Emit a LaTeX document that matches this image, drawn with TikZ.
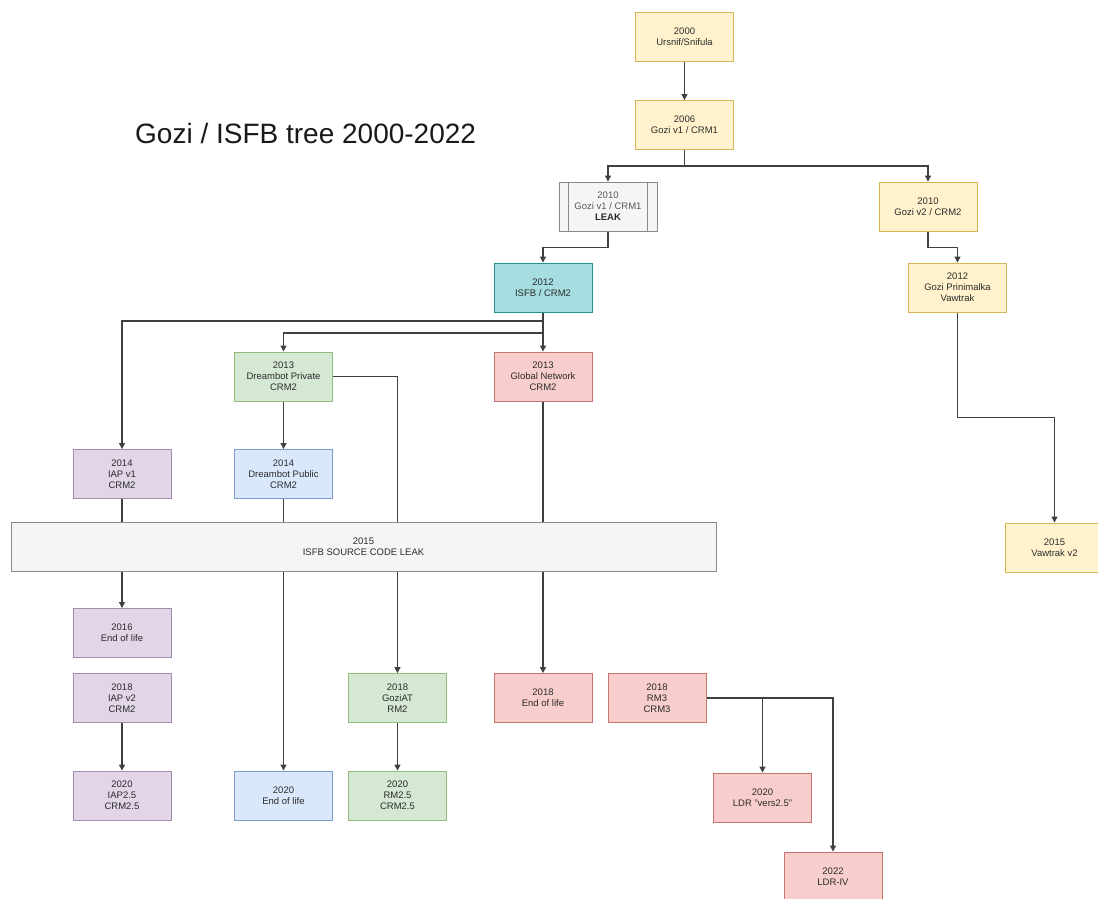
\documentclass[tikz,border=0pt]{standalone}
\usepackage{fontspec}
\setmainfont{Liberation Sans}
\usetikzlibrary{arrows.meta,backgrounds}
\definecolor{yelF}{HTML}{FFF2CC}\definecolor{yelD}{HTML}{D6B656}
\definecolor{gryF}{HTML}{F5F5F5}\definecolor{gryD}{HTML}{8A8A8A}
\definecolor{tealF}{HTML}{A6DDE1}\definecolor{tealD}{HTML}{2A9098}
\definecolor{grnF}{HTML}{D5E8D4}\definecolor{grnD}{HTML}{92BC7A}
\definecolor{redF}{HTML}{F8CECC}\definecolor{redD}{HTML}{C77470}
\definecolor{purF}{HTML}{E1D5E7}\definecolor{purD}{HTML}{A48BB0}
\definecolor{bluF}{HTML}{DAE8FC}\definecolor{bluD}{HTML}{7F9CC8}
\definecolor{linec}{HTML}{404040}
\definecolor{txt}{HTML}{2B2B2B}
\begin{document}
\begin{tikzpicture}[x=1pt,y=-1pt,
  box/.style={draw, line width=0.9pt, minimum width=98pt, minimum height=49pt,
    inner sep=0pt, align=center, font=\fontsize{9.5}{11}\selectfont, text=txt},
  yel/.style={box, fill=yelF, draw=yelD},
  gry/.style={box, fill=gryF, draw=gryD},
  teal/.style={box, fill=tealF, draw=tealD},
  grn/.style={box, fill=grnF, draw=grnD},
  red/.style={box, fill=redF, draw=redD},
  pur/.style={box, fill=purF, draw=purD},
  blu/.style={box, fill=bluF, draw=bluD},
  conn/.style={draw=linec, line width=1.2pt, -{Triangle[length=6pt,width=6pt]}}]
\useasboundingbox (0,0) rectangle (1098,898);
\clip (0,0) rectangle (1098,898);

\node[anchor=base west, font=\fontsize{28}{32}\selectfont, text=black!90, inner sep=0pt] (title) at (135,143) {Gozi / ISFB tree 2000-2022};

\node[yel] (n2000) at (684.5,36.5) {2000\\Ursnif/Snifula};
\node[yel] (n2006) at (684.5,125) {2006\\Gozi v1 / CRM1};
\node[gry] (leak) at (608,206.5) {\textcolor{black!65}{2010}\\\textcolor{black!65}{Gozi v1 / CRM1}\\\textbf{LEAK}};
\draw[gryD, line width=0.9pt] ([xshift=10pt]leak.north west) -- ([xshift=10pt]leak.south west)
  ([xshift=-10pt]leak.north east) -- ([xshift=-10pt]leak.south east);
\node[yel] (g2) at (928,206.5) {2010\\Gozi v2 / CRM2};
\node[teal] (isfb) at (543,287.5) {2012\\ISFB / CRM2};
\node[yel] (prin) at (957.5,287.5) {2012\\Gozi Prinimalka\\Vawtrak};
\node[grn] (dpriv) at (283.5,376.5) {2013\\Dreambot Private\\CRM2};
\node[red] (glob) at (543,376.5) {2013\\Global Network\\CRM2};
\node[pur] (iap1) at (122,474) {2014\\IAP v1\\CRM2};
\node[blu] (dpub) at (283.5,474) {2014\\Dreambot Public\\CRM2};
\node[gry, minimum width=705pt] (bar) at (363.5,547) {2015\\ISFB SOURCE CODE LEAK};
\node[yel] (vaw) at (1054.5,547.5) {2015\\Vawtrak v2};
\node[pur] (eol16) at (122,633) {2016\\End of life};
\node[pur] (iap2) at (122,698) {2018\\IAP v2\\CRM2};
\node[grn] (goziat) at (397.5,698) {2018\\GoziAT\\RM2};
\node[red] (eol18) at (543,698) {2018\\End of life};
\node[red] (rm3) at (657,698) {2018\\RM3\\CRM3};
\node[pur] (iap25) at (122,795.5) {2020\\IAP2.5\\CRM2.5};
\node[blu] (eol20) at (283.5,795.5) {2020\\End of life};
\node[grn] (rm25) at (397.5,795.5) {2020\\RM2.5\\CRM2.5};
\node[red] (ldr25) at (762.5,797.5) {2020\\LDR "vers2.5"};
\node[red] (ldr4) at (833,876.5) {2022\\LDR-IV};

\begin{scope}[on background layer]
\fill[white] (0,0) rectangle (1098,898);
\draw[conn] (n2000) -- (n2006);
\draw[conn] (n2006.south) -- ++(0,16) -| (leak.north);
\draw[conn] (n2006.south) -- ++(0,16) -| (g2.north);
\draw[conn] (leak.south) -- ++(0,16) -| (isfb.north);
\draw[conn] (g2.south) -- ++(0,16) -| (prin.north);
\draw[conn] (isfb.south) -- ++(0,8.5) -| (iap1.north);
\draw[conn] (isfb.south) -- ++(0,20.5) -| (dpriv.north);
\draw[conn] (isfb) -- (glob);
\draw[conn] (dpriv) -- (dpub);
\draw[conn] (dpriv.east) -| (goziat.north);
\draw[conn] (iap1) -- (eol16);
\draw[conn] (dpub) -- (eol20);
\draw[conn] (glob) -- (eol18);
\draw[conn] (iap2) -- (iap25);
\draw[conn] (goziat) -- (rm25);
\draw[conn] (rm3.east) -| (ldr25.north);
\draw[conn] (rm3.east) -| (ldr4.north);
\draw[conn] (prin.south) -- ++(0,105) -| (vaw.north);
\end{scope}
\end{tikzpicture}
\end{document}
